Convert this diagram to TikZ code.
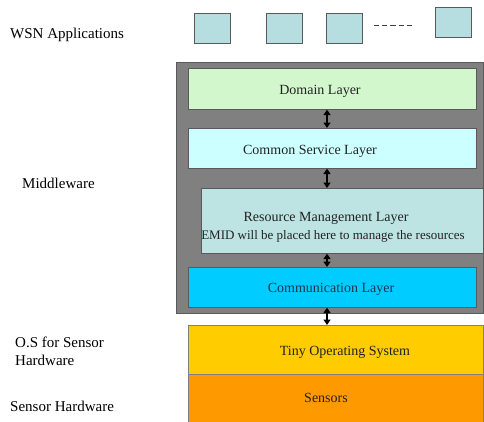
\documentclass[tikz,border=0pt]{standalone}
\usepackage{fontspec}
\setmainfont{Liberation Serif}
\usetikzlibrary{arrows.meta}
\definecolor{appc}{HTML}{B6DEE0}
\definecolor{domc}{HTML}{D2F7CC}
\definecolor{comc}{HTML}{CCFFFF}
\definecolor{resc}{HTML}{BDE3E3}
\definecolor{cmmc}{HTML}{00CCFF}
\definecolor{osc}{HTML}{FFCC00}
\definecolor{senc}{HTML}{FF9900}
\definecolor{grayc}{HTML}{808080}
\definecolor{edgec}{HTML}{5A5A5A}
\definecolor{txtc}{HTML}{222222}
\definecolor{navyc}{HTML}{1F3550}
\begin{document}
\begin{tikzpicture}[x=1pt,y=-1pt,
  appbox/.style={draw=edgec,line width=0.8pt,fill=appc,minimum width=36pt,minimum height=30pt,inner sep=0pt,anchor=north west},
  layer/.style={draw=edgec,line width=0.6pt,anchor=north west,inner sep=0pt},
  ltext/.style={font=\fontsize{14}{16}\selectfont,text=txtc,inner sep=0pt},
  lbl/.style={anchor=west,font=\fontsize{15}{18}\selectfont,align=left,inner sep=0pt},
  dbl/.style={{Triangle[width=7pt,length=5.5pt]}-{Triangle[width=7pt,length=5.5pt]},line width=1.6pt,black},
]
\useasboundingbox (0,0) rectangle (484,421);
% labels
\node[lbl] (wsn) at (10,35) {WSN Applications};
\node[lbl] (mid) at (22,183) {Middleware};
\node[lbl] (osl) at (15,351) {O.S for Sensor\\Hardware};
\node[lbl] (shw) at (10,406) {Sensor Hardware};
% application boxes
\node[appbox] (a1) at (194,13) {};
\node[appbox] (a2) at (266,13) {};
\node[appbox] (a3) at (326,13) {};
\node[appbox] (a4) at (435,7) {};
\coordinate (d1) at (374,25);
\coordinate (d2) at (412,25);
\draw[edgec!70!black,line width=1pt,dash pattern=on 5.2pt off 3pt] (d1) -- (d2);
% middleware container
\node[draw=edgec,fill=grayc,line width=0.8pt,minimum width=307pt,minimum height=251pt,anchor=north west,inner sep=0pt] (mw) at (176,62) {};
\node[layer,fill=domc,minimum width=288pt,minimum height=41pt] (dom) at (188,68) {};
\node[ltext] (domt) at (320,91) {Domain Layer};
\node[layer,fill=comc,minimum width=288pt,minimum height=40pt] (com) at (188,128) {};
\node[ltext] (comt) at (310,151) {Common Service Layer};
\node[layer,fill=resc,minimum width=282pt,minimum height=65pt] (res) at (201,188) {};
\node[ltext,font=\fontsize{14}{16}\selectfont] (rest1) at (326,218) {Resource Management Layer};
\node[ltext,font=\fontsize{13}{16}\selectfont] (rest2) at (333,236) {EMID will be placed here to manage the resources};
\node[layer,fill=cmmc,minimum width=288pt,minimum height=40pt] (cmm) at (188,267) {};
\node[ltext,text=navyc] (cmmt) at (331,289) {Communication Layer};
% OS and sensors
\node[layer,draw=grayc,fill=osc,minimum width=295pt,minimum height=49pt] (os) at (188,325) {};
\node[ltext] (ost) at (345,352) {Tiny Operating System};
\node[layer,draw=grayc,fill=senc,minimum width=295pt,minimum height=50pt] (sen) at (188,374) {};
\node[ltext] (sent) at (326,398) {Sensors};
% arrows
\draw[dbl] (dom.south -| 327,0) -- (com.north -| 327,0);
\draw[dbl] (com.south -| 327,0) -- (res.north -| 327,0);
\draw[dbl] (res.south -| 327,0) -- (cmm.north -| 327,0);
\draw[dbl] (cmm.south -| 327,0) -- (os.north -| 327,0);
\end{tikzpicture}
\end{document}
